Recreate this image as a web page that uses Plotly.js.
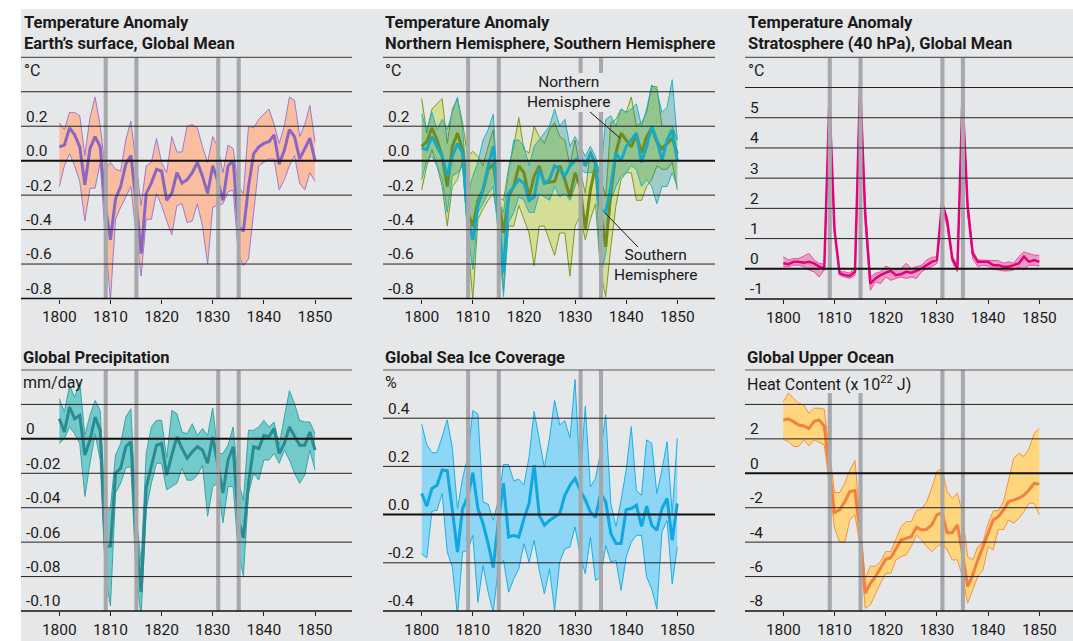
<!DOCTYPE html>
<html>
<head>
<meta charset="utf-8">
<script src="https://cdn.plot.ly/plotly-3.0.1.min.js"></script>
<style>html,body{margin:0;padding:0;background:#fff;}#chart{width:1073px;height:641px;}</style>
</head>
<body>
<div id="chart"></div>
<script>
// ---------------- DATA ----------------
const years = [];
for (let y = 1800; y <= 1850; y++) years.push(y);
const eruptionYears = [1809, 1815, 1831, 1835];
const xTickVals = [1800, 1810, 1820, 1830, 1840, 1850];

// Panel 1: surface temperature, global mean (°C)
const surfMean = [0.08,0.09,0.19,0.15,0.08,-0.14,0.07,0.14,0.08,-0.26, -0.46,-0.22,-0.15,-0.02,0.03,-0.23,-0.54,-0.19,-0.13,-0.05, -0.06,-0.23,-0.19,-0.07,-0.13,-0.11,-0.07,-0.01,-0.09,-0.19, -0.03,-0.12,-0.23,-0.03,0.0,-0.38,-0.41,-0.15,0.04,0.08, 0.10,0.11,0.15,-0.02,0.06,0.18,0.14,0.01,0.07,0.13,0.0];
const surfUpper = [0.22,0.18,0.28,0.28,0.26,0.03,0.25,0.37,0.20,-0.05, -0.01,-0.05,-0.06,0.12,0.23,-0.03,-0.26,-0.03,-0.01,0.13, -0.01,-0.07,0.14,0.05,0.05,0.20,0.21,0.19,0.08,-0.01, 0.14,0.08,-0.07,0.09,0.07,-0.15,-0.19,0.20,0.19,0.24, 0.27,0.30,0.21,0.10,0.20,0.37,0.35,0.14,0.21,0.32,0.11];
const surfLower = [-0.15,-0.03,0.04,-0.03,-0.12,-0.35,-0.16,-0.16,-0.01,-0.46, -0.81,-0.34,-0.27,-0.21,-0.15,-0.42,-0.67,-0.34,-0.34,-0.19, -0.26,-0.35,-0.43,-0.26,-0.25,-0.36,-0.35,-0.25,-0.38,-0.60, -0.27,-0.26,-0.25,-0.18,-0.17,-0.54,-0.61,-0.57,-0.30,-0.03, -0.01,0.01,0.01,-0.17,-0.11,-0.03,0.03,-0.13,-0.17,-0.07,-0.12];

// Panel 2: Northern / Southern hemisphere (°C)
const nhMean = [0.083,0.11,0.19,0.12,0.025,-0.15,0.083,0.16,0.064,-0.30, -0.38,-0.23,-0.17,-0.05,-0.02,-0.23,-0.42,-0.21,-0.15,-0.03, -0.07,-0.21,-0.09,-0.03,-0.13,-0.125,-0.12,-0.03,-0.11,-0.21, -0.07,-0.15,-0.40,-0.17,-0.03,-0.30,-0.50,-0.19,0.046,0.16, 0.12,0.08,0.15,0.046,0.14,0.19,0.11,0.07,0.10,0.13,0.04];
const nhUpper = [0.36,0.16,0.30,0.33,0.36,0.10,0.30,0.36,0.22,0.025, 0.054,0.025,-0.03,0.083,0.18,-0.21,-0.23,-0.04,0.083,0.25, 0.064,0.044,0.20,0.14,0.10,0.18,0.22,0.14,0.12,-0.03, 0.12,-0.05,-0.19,0.06,0.0,-0.10,-0.21,0.22,0.24,0.30, 0.28,0.37,0.20,0.22,0.28,0.43,0.43,0.20,0.20,0.20,0.12];
const nhLower = [-0.17,-0.03,0.064,-0.03,-0.15,-0.38,-0.15,-0.11,0.0,-0.46, -0.81,-0.34,-0.28,-0.23,-0.19,-0.34,-0.75,-0.38,-0.38,-0.26, -0.34,-0.42,-0.61,-0.38,-0.38,-0.46,-0.55,-0.42,-0.42,-0.67, -0.38,-0.32,-0.46,-0.34,-0.25,-0.65,-0.79,-0.50,-0.26,-0.11, -0.07,-0.07,-0.23,-0.23,-0.15,-0.11,-0.03,-0.05,-0.05,-0.01,-0.17];
const shMean = [0.073,0.064,0.14,0.083,0.025,-0.09,0.025,0.10,0.044,-0.34, -0.46,-0.26,-0.17,-0.03,0.083,-0.32,-0.65,-0.19,-0.15,-0.11, -0.13,-0.23,-0.21,-0.05,-0.13,-0.11,-0.03,-0.05,-0.09,-0.03, 0.0,0.025,-0.03,0.044,-0.02,-0.28,-0.30,-0.15,0.044,0.0, 0.083,0.12,0.16,-0.01,0.083,0.20,0.12,0.0,0.12,0.18,0.0];
const shUpper = [0.27,0.18,0.28,0.18,0.24,0.18,0.28,0.37,0.18,-0.19, -0.09,-0.01,0.12,0.18,0.27,-0.23,-0.30,-0.07,0.12,0.12, 0.083,-0.03,0.083,0.12,0.16,0.20,0.30,0.20,0.24,0.083, 0.14,0.083,0.025,0.083,0.025,-0.09,0.24,0.26,0.20,0.30, 0.28,0.30,0.33,0.20,0.30,0.44,0.41,0.28,0.31,0.47,0.12];
const shLower = [-0.11,0.0,0.025,-0.03,-0.11,-0.30,-0.09,-0.07,-0.03,-0.42, -0.63,-0.30,-0.25,-0.19,-0.15,-0.42,-0.79,-0.36,-0.30,-0.21, -0.23,-0.30,-0.30,-0.19,-0.21,-0.23,-0.15,-0.21,-0.19,-0.23, -0.15,-0.05,-0.07,-0.07,-0.07,-0.67,-0.54,-0.23,-0.15,-0.09, -0.07,-0.03,-0.05,-0.15,-0.11,-0.15,-0.25,-0.15,-0.15,-0.07,-0.15];

// Panel 3: stratosphere 40 hPa (°C)
const stratMean = [0.18,0.15,0.23,0.23,0.2,0.23,0.18,0.07,0.01,5.6, 1.28,-0.15,-0.21,-0.24,-0.1,6.15,1.8,-0.49,-0.32,-0.21, -0.13,-0.07,-0.21,-0.18,-0.1,-0.13,-0.07,0.01,0.12,0.23, 0.29,2.17,1.6,0.34,0.01,5.7,2.06,0.5,0.23,0.23, 0.23,0.12,0.12,0.07,0.07,0.12,0.18,0.4,0.23,0.29,0.23];
const stratUpper = [0.4,0.29,0.34,0.34,0.42,0.51,0.29,0.18,0.15,5.75, 1.4,-0.1,-0.1,-0.15,0.07,6.2,2.1,-0.27,-0.15,-0.1, 0.09,0.01,-0.04,0.01,0.18,0.01,0.07,0.12,0.29,0.38, 0.4,2.23,1.73,0.4,0.12,5.77,2.28,0.6,0.29,0.29, 0.29,0.27,0.27,0.18,0.23,0.18,0.4,0.56,0.51,0.45,0.45];
const stratLower = [0.07,0.07,0.12,0.12,0.07,-0.04,-0.1,-0.27,-0.04,5.5, 1.17,-0.21,-0.27,-0.32,-0.21,5.9,1.5,-0.71,-0.43,-0.49, -0.27,-0.38,-0.32,-0.27,-0.32,-0.27,-0.32,-0.1,0.01,0.07, 0.18,2.0,1.4,0.23,-0.1,5.6,1.84,0.34,0.07,0.12, 0.09,-0.02,-0.04,-0.07,-0.07,-0.04,0.07,-0.04,0.12,0.12,0.09];

// Panel 4: global precipitation (mm/day)
const precMean = [0.0117,0.004,0.0185,0.0117,0.0137,-0.0094,-0.0008,0.0127,0.005,-0.0623, -0.0623,-0.02,-0.017,-0.0046,-0.0017,-0.056,-0.089,-0.028,-0.016,-0.0037, -0.0027,-0.021,-0.0094,0.0012,-0.0056,-0.0113,-0.0075,-0.0046,-0.0065,-0.0142, 0.0012,-0.0142,-0.0315,-0.0123,-0.0046,-0.047,-0.0575,-0.0258,-0.0046,-0.0056, 0.002,0.0012,0.006,-0.0085,-0.0027,0.0069,0.002,-0.0037,-0.0037,0.004,-0.0065];
const precUpper = [0.0233,0.0156,0.031,0.0242,0.0329,0.002,0.0137,0.0223,0.0165,-0.043, -0.04,-0.0094,-0.0027,0.0127,0.0175,-0.043,-0.072,-0.0085,0.0069,0.0108, 0.0108,-0.0113,0.0165,0.0146,0.004,0.003,0.0088,0.002,0.006,0.002, 0.018,-0.0085,-0.0085,-0.0037,0.0069,-0.024,-0.036,0.005,0.005,0.0069, 0.0108,0.0069,0.0098,-0.0037,0.0127,0.028,0.0204,0.0108,0.0098,0.0098,0.003];
const precLower = [-0.0027,0.0002,0.0069,0.003,-0.0027,-0.0335,-0.0142,0.003,-0.0123,-0.0796, -0.097,-0.0315,-0.0258,-0.017,-0.016,-0.0777,-0.103,-0.041,-0.0258,-0.0142, -0.0142,-0.0296,-0.0277,-0.0258,-0.017,-0.024,-0.024,-0.021,-0.0152,-0.045, -0.0277,-0.0258,-0.0488,-0.0277,-0.0277,-0.066,-0.0796,-0.0315,-0.02,-0.024, -0.0123,-0.0123,-0.0085,-0.0142,-0.0065,-0.0123,-0.02,-0.0258,-0.021,-0.0065,-0.018];

// Panel 5: global sea ice coverage (%)
const iceMean = [0.0875,0.035,0.108,0.122,0.185,0.182,0.018,-0.155,0.025,0.074, 0.174,0.025,-0.037,-0.12,-0.22,-0.024,0.13,-0.093,-0.086,-0.093, -0.017,0.046,0.205,-0.003,-0.044,-0.024,-0.01,0.004,0.08,0.122, 0.15,0.10,0.062,0.011,-0.012,0.087,0.053,-0.079,-0.12,-0.12, 0.021,0.025,0.039,-0.049,0.035,-0.044,-0.065,0.025,0.067,-0.107,0.046];
const iceUpper = [0.375,0.289,0.257,0.257,0.324,0.393,0.275,0.025,0.15,0.24, 0.432,0.418,0.053,0.043,-0.024,0.06,0.208,0.208,0.14,0.147, 0.122,0.24,0.428,0.317,0.196,0.317,0.474,0.372,0.39,0.317, 0.56,0.14,0.45,0.115,0.15,0.26,0.414,0.046,-0.05,0.06, 0.185,0.365,0.10,0.08,0.31,0.296,0.0875,0.185,0.303,0.004,0.317];
const iceLower = [-0.163,-0.18,0.014,0.018,0.0875,-0.155,-0.218,-0.42,-0.155,-0.149, -0.086,-0.364,-0.211,-0.322,-0.406,-0.218,-0.19,-0.322,-0.267,-0.225, -0.121,-0.197,-0.107,-0.232,-0.329,-0.225,-0.399,-0.197,-0.142,-0.135, -0.051,-0.17,-0.246,-0.093,-0.274,-0.26,-0.128,-0.197,-0.19,-0.315, -0.176,-0.114,-0.086,-0.086,-0.26,-0.308,-0.392,-0.072,-0.024,-0.288,-0.135];

// Panel 6: global upper ocean heat content (x 10^22 J)
const heatMean = [3.1,3.16,3.0,2.8,2.75,2.6,3.0,3.1,2.75,0.2, -2.28,-2.13,-1.65,-1.06,-1.0,-3.5,-6.97,-6.39,-6.0,-5.5, -5.0,-4.9,-4.36,-3.87,-3.78,-3.68,-3.14,-3.29,-3.25,-3.0, -2.42,-2.28,-3.45,-3.45,-3.0,-4.65,-6.58,-5.9,-5.03,-4.26, -3.48,-2.71,-2.52,-2.13,-1.65,-1.55,-1.45,-1.26,-0.97,-0.58,-0.64];
const heatUpper = [4.16,4.65,4.36,4.07,3.97,3.48,3.78,3.78,3.72,1.16, -1.12,-1.12,-0.58,0.19,0.74,-2.7,-6.2,-5.38,-5.42,-5.13, -4.55,-4.55,-3.87,-3.1,-2.81,-2.81,-2.17,-2.09,-1.65,-0.87, 0.1,0.29,-1.06,-1.45,-1.16,-2.32,-4.84,-5.03,-4.26,-4.03, -2.9,-2.19,-2.17,-1.65,-0.39,0.87,1.16,0.97,1.45,2.32,2.61];
const heatLower = [1.97,1.84,1.55,1.55,1.94,1.59,1.94,1.78,1.65,-0.68, -3.19,-3.97,-4.03,-2.71,-2.42,-4.26,-7.84,-7.65,-6.97,-6.39, -5.81,-5.81,-5.03,-4.84,-4.74,-4.26,-3.58,-3.87,-4.26,-4.55, -4.26,-4.07,-4.45,-5.03,-5.03,-6.0,-7.55,-6.78,-6.0,-5.61, -4.26,-4.45,-3.25,-3.29,-2.71,-2.9,-2.61,-2.23,-1.74,-1.74,-2.42];

// Tick labels
const ticks1 = {vals: [-0.8,-0.6,-0.4,-0.2,0,0.2], text: ['-0.8','-0.6','-0.4','-0.2','0.0','0.2']};
const ticks2 = {vals: [-0.8,-0.6,-0.4,-0.2,0,0.2], text: ['-0.8','-0.6','-0.4','-0.2','0.0','0.2']};
const ticks3 = {vals: [-1,0,1,2,3,4,5], text: ['-1','0','1','2','3','4','5']};
const ticks4 = {vals: [-0.10,-0.08,-0.06,-0.04,-0.02,0], text: ['-0.10','-0.08','-0.06','-0.04','-0.02','0']};
const ticks5 = {vals: [-0.4,-0.2,0,0.2,0.4], text: ['-0.4','-0.2','0.0','0.2','0.4']};
const ticks6 = {vals: [-8,-6,-4,-2,0,2], text: ['-8','-6','-4','-2','0','2']};

// ---------------- LAYOUT ----------------
const W = 1073, H = 641;
const FONT = 'Roboto, "Open Sans", sans-serif';
const TXT = '#1a1a1a';
const BG = '#e6e7e8';
const fx = px => px / W;
const fy = py => 1 - py / H;

const panels = [
  {n:1, left:21,  right:352,  top:57.3, bottom:298.5, x0px:59.3,  x50px:315.0,  yr:[-0.8,0.6],  grid:[-0.6,-0.4,-0.2,0.2,0.4], ticks:ticks1,
   title:'Temperature Anomaly<br>Earth’s surface, Global Mean', tY:33, unit:'°C', uX:23, uY:70},
  {n:2, left:383, right:715,  top:57.3, bottom:298.5, x0px:421.7, x50px:677.3,  yr:[-0.8,0.6],  grid:[-0.6,-0.4,-0.2,0.2,0.4], ticks:ticks2,
   title:'Temperature Anomaly<br>Northern Hemisphere, Southern Hemisphere', tY:33, unit:'°C', uX:384, uY:70},
  {n:3, left:745, right:1073, top:57.3, bottom:299,   x0px:783.3, x50px:1039.3, yr:[-1,7],       grid:[1,2,3,4,5,6], ticks:ticks3,
   title:'Temperature Anomaly<br>Stratosphere (40 hPa), Global Mean', tY:33, unit:'°C', uX:747, uY:70},
  {n:4, left:21,  right:352,  top:370,  bottom:611,   x0px:59.3,  x50px:315.0,  yr:[-0.10,0.04], grid:[-0.08,-0.06,-0.04,-0.02,0.02], ticks:ticks4,
   title:'Global Precipitation', tY:357, unit:'mm/day', uX:22, uY:382},
  {n:5, left:383, right:715,  top:370,  bottom:611,   x0px:421.7, x50px:677.3,  yr:[-0.4,0.6],  grid:[-0.2,0.2,0.4], ticks:ticks5,
   title:'Global Sea Ice Coverage', tY:357, unit:'%', uX:384, uY:382},
  {n:6, left:745, right:1073, top:370,  bottom:611,   x0px:783.3, x50px:1039.3, yr:[-8,6],      grid:[-6,-4,-2,2,4], ticks:ticks6,
   title:'Global Upper Ocean', tY:357, unit:'Heat Content (x 10<sup>22</sup> J)', uX:746, uY:383}
];

// bar segments (fraction of panel height, from bottom) where label areas interrupt them
const barSegments = {
  2: {1831: [[0,0.773],[0.935,1]], 1835: [[0,0.773],[0.935,1]]},
  6: {1809: [[0,0.905]], 1815: [[0,0.905]]}
};

const layout = {
  width: W, height: H,
  margin: {l:0, r:0, t:0, b:0},
  paper_bgcolor: '#ffffff',
  plot_bgcolor: 'rgba(0,0,0,0)',
  showlegend: false,
  font: {family: FONT, color: TXT, size: 15},
  shapes: [],
  annotations: []
};

// background panel
layout.shapes.push({type:'rect', xref:'paper', yref:'paper', x0:fx(21), x1:1, y0:0, y1:fy(9),
  fillcolor:BG, line:{width:0}, layer:'below'});

panels.forEach(p => {
  const s = p.n === 1 ? '' : String(p.n);
  const xa = 'x' + s, ya = 'y' + s;
  const ppy = (p.x50px - p.x0px) / 50;
  const xr = [1800 - (p.x0px - p.left) / ppy, 1800 + (p.right - p.x0px) / ppy];
  layout['xaxis' + s] = {
    domain: [fx(p.left), fx(p.right)], range: xr, anchor: ya,
    tickvals: xTickVals, ticks: 'outside', ticklen: 4, tickwidth: 1, tickcolor: '#1a1a1a',
    showgrid: false, zeroline: false, showline: false, fixedrange: true,
    tickfont: {family: FONT, size: 15.5, color: TXT}
  };
  layout['yaxis' + s] = {
    domain: [fy(p.bottom), fy(p.top)], range: p.yr, anchor: xa,
    tickvals: p.ticks.vals, ticktext: p.ticks.text,
    ticks: '', ticklabelposition: 'inside', ticklabelstandoff: 2, ticklabelshift: -10,
    ticklabeloverflow: 'allow',
    showgrid: false, zeroline: false, showline: false, fixedrange: true,
    tickfont: {family: FONT, size: 15.5, color: TXT}
  };
  // eruption bars
  eruptionYears.forEach(yr => {
    const segs = (barSegments[p.n] && barSegments[p.n][yr]) || [[0,1]];
    segs.forEach(sg => {
      layout.shapes.push({type:'rect', xref: xa, yref: ya + ' domain', x0: yr - 0.32, x1: yr + 0.48,
        y0: sg[0], y1: sg[1], fillcolor: '#a6a8ab', line: {width: 0}, layer: 'above'});
    });
  });
  // grid lines
  p.grid.forEach(v => {
    layout.shapes.push({type:'line', xref: xa + ' domain', yref: ya, x0: 0, x1: 1, y0: v, y1: v,
      line: {color: '#222222', width: 1}, layer: 'above'});
  });
  // zero line
  layout.shapes.push({type:'line', xref: xa + ' domain', yref: ya, x0: 0, x1: 1, y0: 0, y1: 0,
    line: {color: '#111111', width: 2}, layer: 'above'});
  // top and bottom lines
  layout.shapes.push({type:'line', xref:'paper', yref:'paper', x0: fx(p.left), x1: fx(p.right),
    y0: fy(p.top), y1: fy(p.top), line: {color: '#5a5a5a', width: 1.2}, layer: 'above'});
  layout.shapes.push({type:'line', xref:'paper', yref:'paper', x0: fx(p.left), x1: fx(p.right),
    y0: fy(p.bottom), y1: fy(p.bottom), line: {color: '#111111', width: 1.5}, layer: 'above'});
  // title
  layout.annotations.push({xref:'paper', yref:'paper', x: fx(p.uX), y: fy(p.tY), xanchor:'left', yanchor:'middle',
    align:'left', showarrow:false, text: p.title, borderpad: 0,
    font: {family: FONT, size: 16.5, color: TXT, weight: 700}});
  // unit label
  layout.annotations.push({xref:'paper', yref:'paper', x: fx(p.uX), y: fy(p.uY), xanchor:'left', yanchor:'middle',
    align:'left', showarrow:false, text: p.unit, borderpad: 0,
    font: {family: FONT, size: 16, color: TXT}});
});

// hemisphere labels and pointers (panel 2)
layout.annotations.push({xref:'paper', yref:'paper', x: fx(568), y: fy(92), xanchor:'center', yanchor:'middle',
  showarrow:false, text:'Northern<br>Hemisphere', align:'center', font:{family: FONT, size: 15.5, color: TXT}});
layout.annotations.push({xref:'paper', yref:'paper', x: fx(655), y: fy(265), xanchor:'center', yanchor:'middle',
  showarrow:false, text:'Southern<br>Hemisphere', align:'center', font:{family: FONT, size: 15.5, color: TXT}});
layout.shapes.push({type:'line', xref:'paper', yref:'paper', x0: fx(590), y0: fy(112), x1: fx(620), y1: fy(138),
  line:{color:'#1a1a1a', width:1}, layer:'above'});
layout.shapes.push({type:'line', xref:'paper', yref:'paper', x0: fx(605), y0: fy(213), x1: fx(638), y1: fy(247),
  line:{color:'#1a1a1a', width:1}, layer:'above'});

// ---------------- TRACES ----------------
const traces = [];
function band(upper, lower, edge, fill, ax) {
  traces.push({x: years, y: upper, mode:'lines', line:{color: edge, width: 1}, xaxis: ax[0], yaxis: ax[1], hoverinfo:'skip'});
  traces.push({x: years, y: lower, mode:'lines', line:{color: edge, width: 1}, fill:'tonexty', fillcolor: fill,
    xaxis: ax[0], yaxis: ax[1], hoverinfo:'skip'});
}
function meanLine(vals, color, ax, w) {
  traces.push({x: years, y: vals, mode:'lines', line:{color: color, width: w || 3}, xaxis: ax[0], yaxis: ax[1]});
}

band(surfUpper, surfLower, '#9a7bd0', '#fbbd9f', ['x','y']);
meanLine(surfMean, '#8867c2', ['x','y']);

band(nhUpper, nhLower, '#7f9a22', 'rgba(190,210,50,0.45)', ['x2','y2']);
band(shUpper, shLower, '#22b3cc', 'rgba(0,140,130,0.30)', ['x2','y2']);
meanLine(nhMean, '#6f8c1c', ['x2','y2']);
meanLine(shMean, '#17a9c8', ['x2','y2']);

band(stratUpper, stratLower, '#ec4b9e', 'rgba(236,70,150,0.45)', ['x3','y3']);
meanLine(stratMean, '#e5007e', ['x3','y3'], 2.5);

band(precUpper, precLower, '#3aa6a8', '#72caca', ['x4','y4']);
meanLine(precMean, '#2a8b92', ['x4','y4']);

band(iceUpper, iceLower, '#1cb0e8', '#8dd6f5', ['x5','y5']);
meanLine(iceMean, '#10a7e2', ['x5','y5']);

band(heatUpper, heatLower, '#f5924a', '#ffd57e', ['x6','y6']);
meanLine(heatMean, '#f0813f', ['x6','y6']);

Plotly.newPlot('chart', traces, layout, {displayModeBar: false, staticPlot: true});
</script>
</body>
</html>
